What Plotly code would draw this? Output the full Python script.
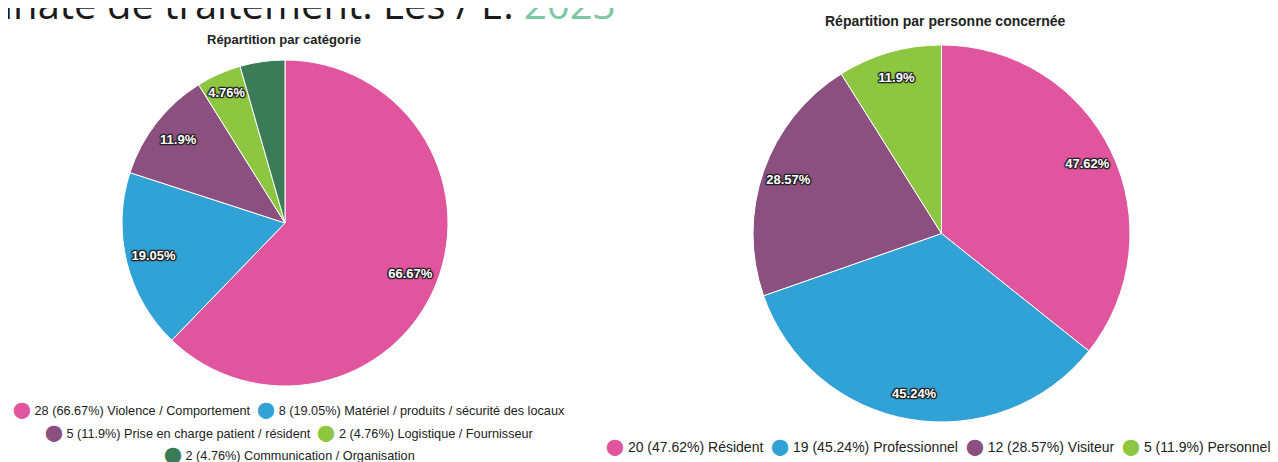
import plotly.graph_objects as go

# ---- data ----
cat_labels = ["Violence / Comportement", "Matériel / produits / sécurité des locaux",
              "Prise en charge patient / résident", "Logistique / Fournisseur",
              "Communication / Organisation"]
cat_counts = [28, 8, 5, 2, 2]
cat_percents = [66.67, 19.05, 11.9, 4.76, 4.76]
cat_show_label = [True, True, True, True, False]

pers_labels = ["Résident", "Professionnel", "Visiteur", "Personnel"]
pers_counts = [20, 19, 12, 5]
pers_percents = [47.62, 45.24, 28.57, 11.9]

title_left = "Répartition par catégorie"
title_right = "Répartition par personne concernée"
heading_dark = "inate de traitement. Les / E. "
heading_green = "2023"

# ---- styles ----
PINK, BLUE, PURPLE, LGREEN, DGREEN = "#e0559e", "#31a2d6", "#8b4f80", "#8dc641", "#3c7b58"
cat_colors = [PINK, BLUE, PURPLE, LGREEN, DGREEN]
pers_colors = [PINK, BLUE, PURPLE, LGREEN]
FONT = "Liberation Sans"
OFF = 8                      # page body margin
W, H = 1262, 454             # figure size (page 1278x462 minus body margin)
outline = ("1px 1px 1px #222, -1px -1px 1px #222, 1px -1px 1px #222, -1px 1px 1px #222, "
           "0 1px 1px #222, 0 -1px 1px #222, 1px 0 1px #222, -1px 0 1px #222")


def px_x(v):
    return (v - OFF) / W


def px_y(v):
    return 1 - (v - OFF) / H


cat_text = [f"{p:g}%" if s else "" for p, s in zip(cat_percents, cat_show_label)]
pers_text = [f"{p:g}%" for p in pers_percents]

fig = go.Figure()


def add_pie(labels, values, colors, text, xr, yr, hole):
    dom = dict(x=[px_x(xr[0]), px_x(xr[1])], y=[px_y(yr[1]), px_y(yr[0])])
    # coloured slices
    fig.add_trace(go.Pie(
        labels=labels, values=values, textinfo="none",
        sort=False, direction="clockwise", rotation=0,
        marker=dict(colors=colors, line=dict(color="white", width=1)),
        domain=dom, showlegend=False, hoverinfo="label+value",
    ))
    # transparent ring carrying the slice labels near the rim
    fig.add_trace(go.Pie(
        labels=labels, values=values, text=text, hole=hole,
        texttemplate="%{text}", textposition="inside", insidetextorientation="horizontal",
        sort=False, direction="clockwise", rotation=0,
        marker=dict(colors=["rgba(0,0,0,0)"] * len(values), line=dict(width=0)),
        textfont=dict(family=FONT, size=13, color="white", weight="bold", shadow=outline),
        domain=dom, showlegend=False, hoverinfo="skip",
    ))


add_pie(cat_labels, cat_counts, cat_colors, cat_text, (122, 448), (60, 386), 0.66)
add_pie(pers_labels, pers_counts, pers_colors, pers_text, (753, 1130), (45, 422), 0.72)


def legend_item(color, count, pct, label):
    return (f'<span style="color:{color};font-size:16px">⬤</span> '
            f'{count} ({pct:g}%) {label}')


annotations = []
# titles
annotations.append(dict(text=f"<b>{title_left}</b>", x=px_x(284), y=px_y(40),
                        font=dict(family=FONT, size=13, color="#222")))
annotations.append(dict(text=f"<b>{title_right}</b>", x=px_x(945), y=px_y(21),
                        font=dict(family=FONT, size=14, color="#222")))
# heading of the scanned page (cut at the top)
annotations.append(dict(text=f'{heading_dark}<span style="color:#7cc8a4">{heading_green}</span>',
                        x=px_x(1), xanchor="left", y=1 + 4.5 / H, yanchor="middle",
                        font=dict(family="Open Sans", size=40, color="#1a1a1a")))

# left legend rows
left_rows = [[0, 1], [2, 3], [4]]
left_row_y = [410, 433, 455]
for row, yy in zip(left_rows, left_row_y):
    txt = "  ".join(legend_item(cat_colors[i], cat_counts[i], cat_percents[i], cat_labels[i])
                    for i in row)
    annotations.append(dict(text=txt, x=px_x(289), y=px_y(yy),
                            font=dict(family=FONT, size=12.7, color="#222")))
# right legend
txt = "  ".join(legend_item(pers_colors[i], pers_counts[i], pers_percents[i], pers_labels[i])
                for i in range(len(pers_labels)))
annotations.append(dict(text=txt, x=px_x(938), y=px_y(447),
                        font=dict(family=FONT, size=14, color="#222")))

for a in annotations:
    a.setdefault("xref", "paper")
    a.setdefault("yref", "paper")
    a.setdefault("showarrow", False)
    a.setdefault("xanchor", "center")
    a.setdefault("yanchor", "middle")

fig.update_layout(
    width=W, height=H, margin=dict(l=0, r=0, t=0, b=0),
    paper_bgcolor="white", plot_bgcolor="white",
    annotations=annotations,
)

fig.write_html("out.html")
